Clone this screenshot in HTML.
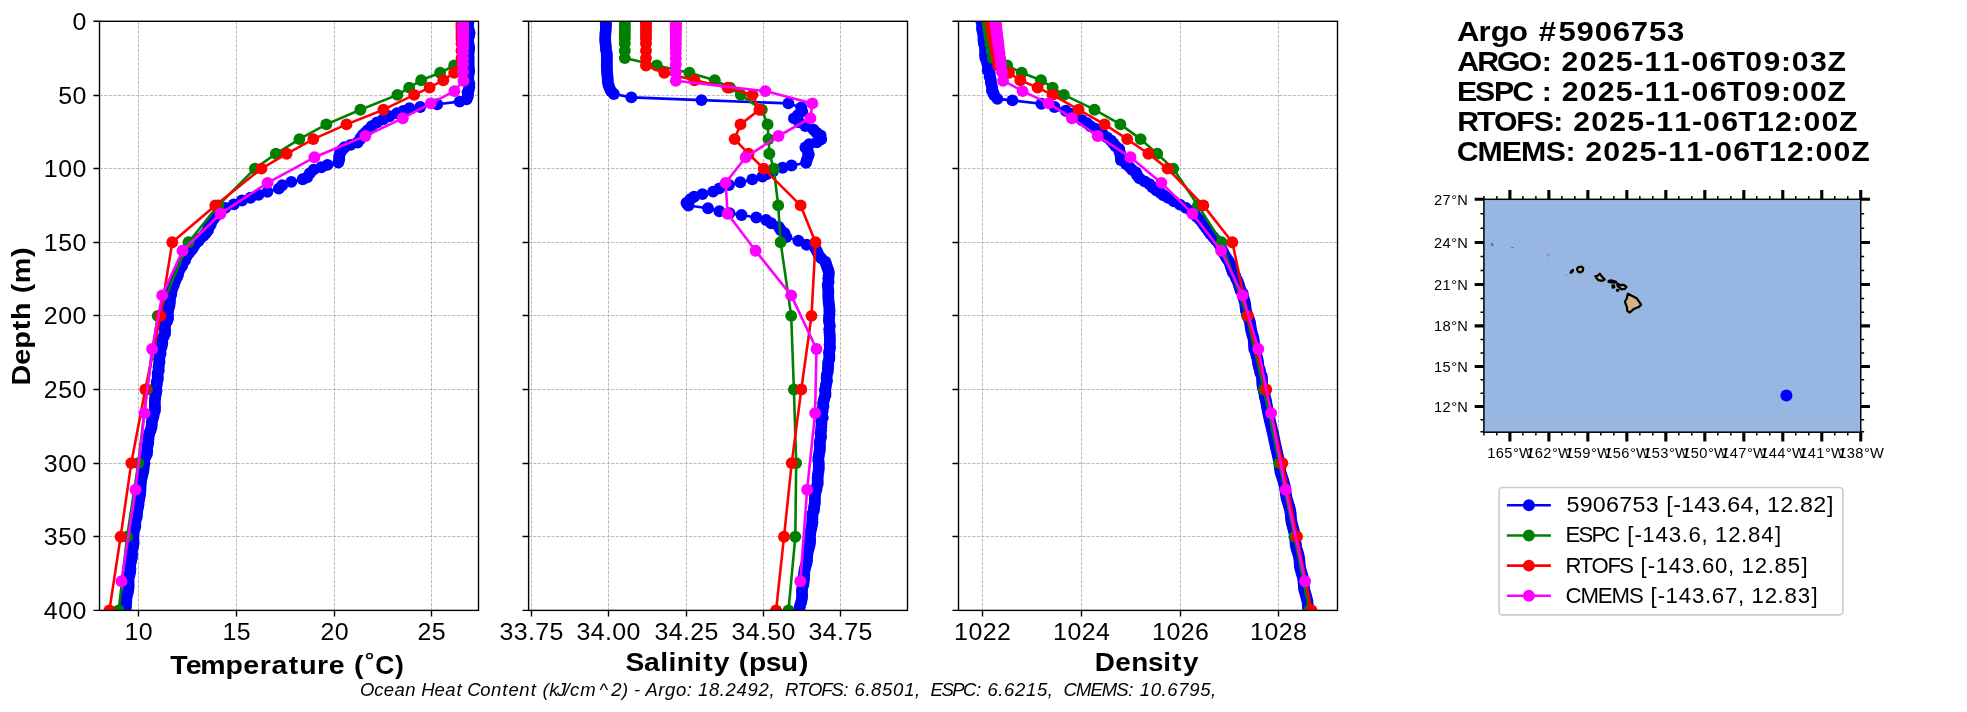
<!DOCTYPE html><html><head><meta charset="utf-8"><title>Argo 5906753</title><style>html,body{margin:0;padding:0;background:#fff}svg{display:block;will-change:transform}text{font-family:"Liberation Sans",sans-serif;fill:#000;white-space:pre}</style></head><body>
<svg width="1967" height="712" viewBox="0 0 1967 712">
<rect width="1967" height="712" fill="#fff"/>
<defs><clipPath id="c0"><rect x="99.5" y="21.3" width="379.0" height="589.1"/></clipPath><clipPath id="c1"><rect x="528.6" y="21.3" width="378.9" height="589.1"/></clipPath><clipPath id="c2"><rect x="958.5" y="21.3" width="379.0" height="589.1"/></clipPath></defs>
<path d="M138.50,21.3V610.4M236.50,21.3V610.4M334.50,21.3V610.4M431.50,21.3V610.4M99.50,21.30H478.50M99.50,95.50H478.50M99.50,168.50H478.50M99.50,242.50H478.50M99.50,315.50H478.50M99.50,389.50H478.50M99.50,463.50H478.50M99.50,536.50H478.50M99.50,610.40H478.50" stroke="#b0b0b0" stroke-width="0.87" stroke-dasharray="3.20,1.38" fill="none"/>
<g clip-path="url(#c0)">
<path d="M468.7,21.0 L468.1,24.0 L467.9,27.0 L468.8,30.0 L469.6,33.0 L469.1,36.0 L468.1,39.0 L468.1,42.0 L468.8,45.0 L469.2,48.0 L468.9,51.0 L468.5,54.0 L468.6,57.0 L468.7,60.0 L468.6,63.0 L468.6,66.0 L469.0,69.0 L469.1,72.0 L468.5,75.0 L468.0,78.0 L468.5,81.0 L469.4,84.0 L469.3,87.0 L468.7,90.0 L467.6,92.3 L468.1,94.6 L467.6,96.9 L466.6,99.3 L459.6,101.6 L437.2,104.2 L420.2,107.0 L409.4,108.2 L403.2,110.9 L397.0,113.2 L389.3,116.3 L383.1,119.4 L377.0,122.4 L371.6,126.3 L367.7,130.2 L365.8,132.5 L363.1,134.8 L361.2,137.1 L360.0,139.4 L357.6,142.5 L350.7,144.9 L344.5,147.2 L342.5,149.5 L340.6,151.8 L339.8,154.1 L339.1,156.4 L339.2,159.5 L338.3,162.6 L327.5,164.9 L321.3,167.3 L313.6,169.6 L309.7,173.4 L307.2,177.2 L302.7,179.3 L291.3,181.9 L282.2,185.2 L278.8,188.6 L267.4,191.9 L258.5,194.9 L250.5,197.8 L242.0,200.5 L233.8,204.4 L225.4,207.9 L219.8,212.1 L215.6,216.3 L213.3,219.2 L211.4,222.0 L210.6,224.8 L208.6,227.6 L207.9,230.4 L205.7,233.2 L203.5,235.9 L200.1,238.5 L198.3,241.2 L195.3,244.1 L193.5,247.0 L191.7,249.8 L189.3,252.5 L187.5,255.1 L185.6,257.8 L185.0,260.4 L183.0,263.0 L182.1,266.0 L179.9,269.0 L178.5,272.0 L178.0,275.0 L176.7,277.8 L175.3,280.5 L174.2,283.2 L173.5,286.0 L172.0,288.9 L171.5,291.7 L171.2,294.5 L170.2,297.4 L169.9,300.4 L169.8,303.4 L169.2,306.4 L168.2,309.4 L167.8,312.4 L167.9,315.4 L168.1,318.4 L166.9,321.4 L165.3,324.4 L164.7,327.4 L165.1,330.4 L165.0,333.4 L163.7,336.4 L162.2,339.4 L162.3,342.4 L161.9,345.2 L161.2,348.0 L160.2,350.8 L160.6,353.6 L159.6,356.4 L159.2,359.2 L159.5,362.0 L158.9,364.8 L158.5,367.6 L158.7,370.4 L157.7,373.2 L157.7,376.1 L157.9,378.9 L156.8,381.7 L156.8,384.5 L156.0,387.3 L156.5,390.2 L156.0,393.2 L155.4,396.1 L155.0,399.0 L154.8,402.0 L154.9,404.9 L155.0,407.8 L154.9,410.8 L153.8,413.7 L153.4,416.6 L152.4,419.4 L151.8,422.3 L151.7,425.2 L151.3,428.0 L150.4,430.9 L149.3,433.8 L148.6,436.6 L148.4,439.5 L148.3,442.4 L147.7,445.2 L147.2,448.1 L147.2,451.1 L146.9,454.1 L145.5,457.1 L144.1,460.1 L144.4,463.1 L143.9,466.0 L143.6,469.0 L143.1,471.9 L142.4,474.8 L141.7,477.8 L141.1,480.7 L140.7,483.6 L140.6,486.5 L140.5,489.5 L140.3,492.4 L139.9,495.4 L139.3,498.5 L138.7,501.5 L138.5,504.6 L138.0,507.6 L137.2,510.7 L137.0,513.7 L136.8,516.7 L135.8,519.8 L135.3,522.8 L135.4,525.9 L134.6,528.9 L133.6,532.0 L133.6,535.0 L133.3,537.9 L133.5,540.7 L133.6,543.6 L133.0,546.4 L132.1,549.3 L131.9,552.1 L132.1,555.0 L131.9,557.9 L131.2,560.7 L130.4,563.6 L130.2,566.4 L130.4,569.3 L130.1,572.1 L129.5,575.0 L128.7,578.0 L128.5,580.9 L128.6,583.9 L128.6,586.8 L128.3,589.8 L127.7,592.7 L126.9,595.6 L126.4,598.6 L126.2,601.5 L126.1,604.5 L125.8,607.4 L124.8,610.4 L124.5,613.6 L124.0,616.8 L123.5,620.0" fill="none" stroke="#0000ff" stroke-width="2.6" stroke-linejoin="round"/>
<g fill="#0000ff"><circle cx="468.7" cy="21.0" r="5.95"/><circle cx="468.1" cy="24.0" r="5.95"/><circle cx="467.9" cy="27.0" r="5.95"/><circle cx="468.8" cy="30.0" r="5.95"/><circle cx="469.6" cy="33.0" r="5.95"/><circle cx="469.1" cy="36.0" r="5.95"/><circle cx="468.1" cy="39.0" r="5.95"/><circle cx="468.1" cy="42.0" r="5.95"/><circle cx="468.8" cy="45.0" r="5.95"/><circle cx="469.2" cy="48.0" r="5.95"/><circle cx="468.9" cy="51.0" r="5.95"/><circle cx="468.5" cy="54.0" r="5.95"/><circle cx="468.6" cy="57.0" r="5.95"/><circle cx="468.7" cy="60.0" r="5.95"/><circle cx="468.6" cy="63.0" r="5.95"/><circle cx="468.6" cy="66.0" r="5.95"/><circle cx="469.0" cy="69.0" r="5.95"/><circle cx="469.1" cy="72.0" r="5.95"/><circle cx="468.5" cy="75.0" r="5.95"/><circle cx="468.0" cy="78.0" r="5.95"/><circle cx="468.5" cy="81.0" r="5.95"/><circle cx="469.4" cy="84.0" r="5.95"/><circle cx="469.3" cy="87.0" r="5.95"/><circle cx="468.7" cy="90.0" r="5.95"/><circle cx="467.6" cy="92.3" r="5.95"/><circle cx="468.1" cy="94.6" r="5.95"/><circle cx="467.6" cy="96.9" r="5.95"/><circle cx="466.6" cy="99.3" r="5.95"/><circle cx="459.6" cy="101.6" r="5.95"/><circle cx="437.2" cy="104.2" r="5.95"/><circle cx="420.2" cy="107.0" r="5.95"/><circle cx="409.4" cy="108.2" r="5.95"/><circle cx="403.2" cy="110.9" r="5.95"/><circle cx="397.0" cy="113.2" r="5.95"/><circle cx="389.3" cy="116.3" r="5.95"/><circle cx="383.1" cy="119.4" r="5.95"/><circle cx="377.0" cy="122.4" r="5.95"/><circle cx="371.6" cy="126.3" r="5.95"/><circle cx="367.7" cy="130.2" r="5.95"/><circle cx="365.8" cy="132.5" r="5.95"/><circle cx="363.1" cy="134.8" r="5.95"/><circle cx="361.2" cy="137.1" r="5.95"/><circle cx="360.0" cy="139.4" r="5.95"/><circle cx="357.6" cy="142.5" r="5.95"/><circle cx="350.7" cy="144.9" r="5.95"/><circle cx="344.5" cy="147.2" r="5.95"/><circle cx="342.5" cy="149.5" r="5.95"/><circle cx="340.6" cy="151.8" r="5.95"/><circle cx="339.8" cy="154.1" r="5.95"/><circle cx="339.1" cy="156.4" r="5.95"/><circle cx="339.2" cy="159.5" r="5.95"/><circle cx="338.3" cy="162.6" r="5.95"/><circle cx="327.5" cy="164.9" r="5.95"/><circle cx="321.3" cy="167.3" r="5.95"/><circle cx="313.6" cy="169.6" r="5.95"/><circle cx="309.7" cy="173.4" r="5.95"/><circle cx="307.2" cy="177.2" r="5.95"/><circle cx="302.7" cy="179.3" r="5.95"/><circle cx="291.3" cy="181.9" r="5.95"/><circle cx="282.2" cy="185.2" r="5.95"/><circle cx="278.8" cy="188.6" r="5.95"/><circle cx="267.4" cy="191.9" r="5.95"/><circle cx="258.5" cy="194.9" r="5.95"/><circle cx="250.5" cy="197.8" r="5.95"/><circle cx="242.0" cy="200.5" r="5.95"/><circle cx="233.8" cy="204.4" r="5.95"/><circle cx="225.4" cy="207.9" r="5.95"/><circle cx="219.8" cy="212.1" r="5.95"/><circle cx="215.6" cy="216.3" r="5.95"/><circle cx="213.3" cy="219.2" r="5.95"/><circle cx="211.4" cy="222.0" r="5.95"/><circle cx="210.6" cy="224.8" r="5.95"/><circle cx="208.6" cy="227.6" r="5.95"/><circle cx="207.9" cy="230.4" r="5.95"/><circle cx="205.7" cy="233.2" r="5.95"/><circle cx="203.5" cy="235.9" r="5.95"/><circle cx="200.1" cy="238.5" r="5.95"/><circle cx="198.3" cy="241.2" r="5.95"/><circle cx="195.3" cy="244.1" r="5.95"/><circle cx="193.5" cy="247.0" r="5.95"/><circle cx="191.7" cy="249.8" r="5.95"/><circle cx="189.3" cy="252.5" r="5.95"/><circle cx="187.5" cy="255.1" r="5.95"/><circle cx="185.6" cy="257.8" r="5.95"/><circle cx="185.0" cy="260.4" r="5.95"/><circle cx="183.0" cy="263.0" r="5.95"/><circle cx="182.1" cy="266.0" r="5.95"/><circle cx="179.9" cy="269.0" r="5.95"/><circle cx="178.5" cy="272.0" r="5.95"/><circle cx="178.0" cy="275.0" r="5.95"/><circle cx="176.7" cy="277.8" r="5.95"/><circle cx="175.3" cy="280.5" r="5.95"/><circle cx="174.2" cy="283.2" r="5.95"/><circle cx="173.5" cy="286.0" r="5.95"/><circle cx="172.0" cy="288.9" r="5.95"/><circle cx="171.5" cy="291.7" r="5.95"/><circle cx="171.2" cy="294.5" r="5.95"/><circle cx="170.2" cy="297.4" r="5.95"/><circle cx="169.9" cy="300.4" r="5.95"/><circle cx="169.8" cy="303.4" r="5.95"/><circle cx="169.2" cy="306.4" r="5.95"/><circle cx="168.2" cy="309.4" r="5.95"/><circle cx="167.8" cy="312.4" r="5.95"/><circle cx="167.9" cy="315.4" r="5.95"/><circle cx="168.1" cy="318.4" r="5.95"/><circle cx="166.9" cy="321.4" r="5.95"/><circle cx="165.3" cy="324.4" r="5.95"/><circle cx="164.7" cy="327.4" r="5.95"/><circle cx="165.1" cy="330.4" r="5.95"/><circle cx="165.0" cy="333.4" r="5.95"/><circle cx="163.7" cy="336.4" r="5.95"/><circle cx="162.2" cy="339.4" r="5.95"/><circle cx="162.3" cy="342.4" r="5.95"/><circle cx="161.9" cy="345.2" r="5.95"/><circle cx="161.2" cy="348.0" r="5.95"/><circle cx="160.2" cy="350.8" r="5.95"/><circle cx="160.6" cy="353.6" r="5.95"/><circle cx="159.6" cy="356.4" r="5.95"/><circle cx="159.2" cy="359.2" r="5.95"/><circle cx="159.5" cy="362.0" r="5.95"/><circle cx="158.9" cy="364.8" r="5.95"/><circle cx="158.5" cy="367.6" r="5.95"/><circle cx="158.7" cy="370.4" r="5.95"/><circle cx="157.7" cy="373.2" r="5.95"/><circle cx="157.7" cy="376.1" r="5.95"/><circle cx="157.9" cy="378.9" r="5.95"/><circle cx="156.8" cy="381.7" r="5.95"/><circle cx="156.8" cy="384.5" r="5.95"/><circle cx="156.0" cy="387.3" r="5.95"/><circle cx="156.5" cy="390.2" r="5.95"/><circle cx="156.0" cy="393.2" r="5.95"/><circle cx="155.4" cy="396.1" r="5.95"/><circle cx="155.0" cy="399.0" r="5.95"/><circle cx="154.8" cy="402.0" r="5.95"/><circle cx="154.9" cy="404.9" r="5.95"/><circle cx="155.0" cy="407.8" r="5.95"/><circle cx="154.9" cy="410.8" r="5.95"/><circle cx="153.8" cy="413.7" r="5.95"/><circle cx="153.4" cy="416.6" r="5.95"/><circle cx="152.4" cy="419.4" r="5.95"/><circle cx="151.8" cy="422.3" r="5.95"/><circle cx="151.7" cy="425.2" r="5.95"/><circle cx="151.3" cy="428.0" r="5.95"/><circle cx="150.4" cy="430.9" r="5.95"/><circle cx="149.3" cy="433.8" r="5.95"/><circle cx="148.6" cy="436.6" r="5.95"/><circle cx="148.4" cy="439.5" r="5.95"/><circle cx="148.3" cy="442.4" r="5.95"/><circle cx="147.7" cy="445.2" r="5.95"/><circle cx="147.2" cy="448.1" r="5.95"/><circle cx="147.2" cy="451.1" r="5.95"/><circle cx="146.9" cy="454.1" r="5.95"/><circle cx="145.5" cy="457.1" r="5.95"/><circle cx="144.1" cy="460.1" r="5.95"/><circle cx="144.4" cy="463.1" r="5.95"/><circle cx="143.9" cy="466.0" r="5.95"/><circle cx="143.6" cy="469.0" r="5.95"/><circle cx="143.1" cy="471.9" r="5.95"/><circle cx="142.4" cy="474.8" r="5.95"/><circle cx="141.7" cy="477.8" r="5.95"/><circle cx="141.1" cy="480.7" r="5.95"/><circle cx="140.7" cy="483.6" r="5.95"/><circle cx="140.6" cy="486.5" r="5.95"/><circle cx="140.5" cy="489.5" r="5.95"/><circle cx="140.3" cy="492.4" r="5.95"/><circle cx="139.9" cy="495.4" r="5.95"/><circle cx="139.3" cy="498.5" r="5.95"/><circle cx="138.7" cy="501.5" r="5.95"/><circle cx="138.5" cy="504.6" r="5.95"/><circle cx="138.0" cy="507.6" r="5.95"/><circle cx="137.2" cy="510.7" r="5.95"/><circle cx="137.0" cy="513.7" r="5.95"/><circle cx="136.8" cy="516.7" r="5.95"/><circle cx="135.8" cy="519.8" r="5.95"/><circle cx="135.3" cy="522.8" r="5.95"/><circle cx="135.4" cy="525.9" r="5.95"/><circle cx="134.6" cy="528.9" r="5.95"/><circle cx="133.6" cy="532.0" r="5.95"/><circle cx="133.6" cy="535.0" r="5.95"/><circle cx="133.3" cy="537.9" r="5.95"/><circle cx="133.5" cy="540.7" r="5.95"/><circle cx="133.6" cy="543.6" r="5.95"/><circle cx="133.0" cy="546.4" r="5.95"/><circle cx="132.1" cy="549.3" r="5.95"/><circle cx="131.9" cy="552.1" r="5.95"/><circle cx="132.1" cy="555.0" r="5.95"/><circle cx="131.9" cy="557.9" r="5.95"/><circle cx="131.2" cy="560.7" r="5.95"/><circle cx="130.4" cy="563.6" r="5.95"/><circle cx="130.2" cy="566.4" r="5.95"/><circle cx="130.4" cy="569.3" r="5.95"/><circle cx="130.1" cy="572.1" r="5.95"/><circle cx="129.5" cy="575.0" r="5.95"/><circle cx="128.7" cy="578.0" r="5.95"/><circle cx="128.5" cy="580.9" r="5.95"/><circle cx="128.6" cy="583.9" r="5.95"/><circle cx="128.6" cy="586.8" r="5.95"/><circle cx="128.3" cy="589.8" r="5.95"/><circle cx="127.7" cy="592.7" r="5.95"/><circle cx="126.9" cy="595.6" r="5.95"/><circle cx="126.4" cy="598.6" r="5.95"/><circle cx="126.2" cy="601.5" r="5.95"/><circle cx="126.1" cy="604.5" r="5.95"/><circle cx="125.8" cy="607.4" r="5.95"/><circle cx="124.8" cy="610.4" r="5.95"/><circle cx="124.5" cy="613.6" r="5.95"/><circle cx="124.0" cy="616.8" r="5.95"/><circle cx="123.5" cy="620.0" r="5.95"/></g>
<path d="M462.0,21.3 L462.0,24.2 L462.0,27.2 L462.0,30.1 L462.0,33.1 L462.0,36.0 L462.0,39.0 L462.0,43.4 L462.0,50.8 L462.0,58.1 L454.2,65.5 L440.1,72.8 L421.2,80.2 L409.2,87.6 L397.4,94.9 L360.4,109.7 L326.3,124.4 L299.4,139.1 L275.9,153.8 L254.9,168.6 L218.4,205.4 L188.5,242.2 L157.7,315.9 L147.0,389.5 L138.3,463.1 L127.1,536.8 L118.7,610.4" fill="none" stroke="#008000" stroke-width="2.6" stroke-linejoin="round"/>
<g fill="#008000"><circle cx="462.0" cy="21.3" r="5.95"/><circle cx="462.0" cy="24.2" r="5.95"/><circle cx="462.0" cy="27.2" r="5.95"/><circle cx="462.0" cy="30.1" r="5.95"/><circle cx="462.0" cy="33.1" r="5.95"/><circle cx="462.0" cy="36.0" r="5.95"/><circle cx="462.0" cy="39.0" r="5.95"/><circle cx="462.0" cy="43.4" r="5.95"/><circle cx="462.0" cy="50.8" r="5.95"/><circle cx="462.0" cy="58.1" r="5.95"/><circle cx="454.2" cy="65.5" r="5.95"/><circle cx="440.1" cy="72.8" r="5.95"/><circle cx="421.2" cy="80.2" r="5.95"/><circle cx="409.2" cy="87.6" r="5.95"/><circle cx="397.4" cy="94.9" r="5.95"/><circle cx="360.4" cy="109.7" r="5.95"/><circle cx="326.3" cy="124.4" r="5.95"/><circle cx="299.4" cy="139.1" r="5.95"/><circle cx="275.9" cy="153.8" r="5.95"/><circle cx="254.9" cy="168.6" r="5.95"/><circle cx="218.4" cy="205.4" r="5.95"/><circle cx="188.5" cy="242.2" r="5.95"/><circle cx="157.7" cy="315.9" r="5.95"/><circle cx="147.0" cy="389.5" r="5.95"/><circle cx="138.3" cy="463.1" r="5.95"/><circle cx="127.1" cy="536.8" r="5.95"/><circle cx="118.7" cy="610.4" r="5.95"/></g>
<path d="M461.5,21.3 L461.5,24.2 L461.5,27.2 L461.5,30.1 L461.5,33.1 L461.5,36.0 L461.5,39.0 L461.5,43.4 L461.5,50.8 L461.5,58.1 L461.5,65.5 L454.2,72.8 L443.3,80.2 L429.6,87.6 L414.2,94.9 L383.4,109.7 L346.5,124.4 L313.3,139.1 L286.6,153.8 L261.4,168.6 L215.3,205.4 L172.3,242.2 L160.4,315.9 L145.3,389.5 L131.3,463.1 L120.6,536.8 L109.4,610.4" fill="none" stroke="#ff0000" stroke-width="2.6" stroke-linejoin="round"/>
<g fill="#ff0000"><circle cx="461.5" cy="21.3" r="5.95"/><circle cx="461.5" cy="24.2" r="5.95"/><circle cx="461.5" cy="27.2" r="5.95"/><circle cx="461.5" cy="30.1" r="5.95"/><circle cx="461.5" cy="33.1" r="5.95"/><circle cx="461.5" cy="36.0" r="5.95"/><circle cx="461.5" cy="39.0" r="5.95"/><circle cx="461.5" cy="43.4" r="5.95"/><circle cx="461.5" cy="50.8" r="5.95"/><circle cx="461.5" cy="58.1" r="5.95"/><circle cx="461.5" cy="65.5" r="5.95"/><circle cx="454.2" cy="72.8" r="5.95"/><circle cx="443.3" cy="80.2" r="5.95"/><circle cx="429.6" cy="87.6" r="5.95"/><circle cx="414.2" cy="94.9" r="5.95"/><circle cx="383.4" cy="109.7" r="5.95"/><circle cx="346.5" cy="124.4" r="5.95"/><circle cx="313.3" cy="139.1" r="5.95"/><circle cx="286.6" cy="153.8" r="5.95"/><circle cx="261.4" cy="168.6" r="5.95"/><circle cx="215.3" cy="205.4" r="5.95"/><circle cx="172.3" cy="242.2" r="5.95"/><circle cx="160.4" cy="315.9" r="5.95"/><circle cx="145.3" cy="389.5" r="5.95"/><circle cx="131.3" cy="463.1" r="5.95"/><circle cx="120.6" cy="536.8" r="5.95"/><circle cx="109.4" cy="610.4" r="5.95"/></g>
<path d="M463.0,22.0 L463.0,23.6 L463.0,25.2 L463.0,26.9 L463.0,28.8 L463.0,30.8 L463.0,33.0 L463.0,35.4 L463.0,38.1 L463.0,41.1 L463.0,44.6 L463.0,48.5 L463.0,53.1 L463.0,58.4 L463.0,64.7 L463.0,72.0 L463.5,80.7 L454.4,91.1 L430.8,103.4 L402.8,118.2 L365.4,136.0 L314.4,157.3 L267.6,182.9 L220.5,213.7 L182.5,250.8 L162.2,295.4 L152.1,349.0 L144.5,413.1 L135.5,489.8 L121.5,581.3" fill="none" stroke="#ff00ff" stroke-width="2.6" stroke-linejoin="round"/>
<g fill="#ff00ff"><circle cx="463.0" cy="22.0" r="5.95"/><circle cx="463.0" cy="23.6" r="5.95"/><circle cx="463.0" cy="25.2" r="5.95"/><circle cx="463.0" cy="26.9" r="5.95"/><circle cx="463.0" cy="28.8" r="5.95"/><circle cx="463.0" cy="30.8" r="5.95"/><circle cx="463.0" cy="33.0" r="5.95"/><circle cx="463.0" cy="35.4" r="5.95"/><circle cx="463.0" cy="38.1" r="5.95"/><circle cx="463.0" cy="41.1" r="5.95"/><circle cx="463.0" cy="44.6" r="5.95"/><circle cx="463.0" cy="48.5" r="5.95"/><circle cx="463.0" cy="53.1" r="5.95"/><circle cx="463.0" cy="58.4" r="5.95"/><circle cx="463.0" cy="64.7" r="5.95"/><circle cx="463.0" cy="72.0" r="5.95"/><circle cx="463.5" cy="80.7" r="5.95"/><circle cx="454.4" cy="91.1" r="5.95"/><circle cx="430.8" cy="103.4" r="5.95"/><circle cx="402.8" cy="118.2" r="5.95"/><circle cx="365.4" cy="136.0" r="5.95"/><circle cx="314.4" cy="157.3" r="5.95"/><circle cx="267.6" cy="182.9" r="5.95"/><circle cx="220.5" cy="213.7" r="5.95"/><circle cx="182.5" cy="250.8" r="5.95"/><circle cx="162.2" cy="295.4" r="5.95"/><circle cx="152.1" cy="349.0" r="5.95"/><circle cx="144.5" cy="413.1" r="5.95"/><circle cx="135.5" cy="489.8" r="5.95"/><circle cx="121.5" cy="581.3" r="5.95"/></g>
</g>
<path d="M138.50,610.4v6.06M236.50,610.4v6.06M334.50,610.4v6.06M431.50,610.4v6.06M99.50,21.30h-6.06M99.50,95.50h-6.06M99.50,168.50h-6.06M99.50,242.50h-6.06M99.50,315.50h-6.06M99.50,389.50h-6.06M99.50,463.50h-6.06M99.50,536.50h-6.06M99.50,610.40h-6.06" stroke="#000" stroke-width="1.38" fill="none"/>
<rect x="99.50" y="21.3" width="379.00" height="589.10" fill="none" stroke="#000" stroke-width="1.38"/>
<text transform="translate(124.19,640.20) scale(1.0469,1)" x="0.21 13.88" y="0" font-size="23.85" xml:space="preserve">10</text>
<text transform="translate(222.19,640.20) scale(1.0469,1)" x="0.21 13.88" y="0" font-size="23.85" xml:space="preserve">15</text>
<text transform="translate(320.19,640.20) scale(1.0469,1)" x="0.21 13.88" y="0" font-size="23.85" xml:space="preserve">20</text>
<text transform="translate(417.19,640.20) scale(1.0469,1)" x="0.21 13.88" y="0" font-size="23.85" xml:space="preserve">25</text>
<text transform="translate(72.29,29.60) scale(1.0469,1)" x="0.21" y="0" font-size="23.85" xml:space="preserve">0</text>
<text transform="translate(57.97,103.80) scale(1.0469,1)" x="0.21 13.88" y="0" font-size="23.85" xml:space="preserve">50</text>
<text transform="translate(43.66,176.80) scale(1.0469,1)" x="0.21 13.88 27.55" y="0" font-size="23.85" xml:space="preserve">100</text>
<text transform="translate(43.66,250.80) scale(1.0469,1)" x="0.21 13.88 27.55" y="0" font-size="23.85" xml:space="preserve">150</text>
<text transform="translate(43.66,323.80) scale(1.0469,1)" x="0.21 13.88 27.55" y="0" font-size="23.85" xml:space="preserve">200</text>
<text transform="translate(43.66,397.80) scale(1.0469,1)" x="0.21 13.88 27.55" y="0" font-size="23.85" xml:space="preserve">250</text>
<text transform="translate(43.66,471.80) scale(1.0469,1)" x="0.21 13.88 27.55" y="0" font-size="23.85" xml:space="preserve">300</text>
<text transform="translate(43.66,544.80) scale(1.0469,1)" x="0.21 13.88 27.55" y="0" font-size="23.85" xml:space="preserve">350</text>
<text transform="translate(43.66,618.70) scale(1.0469,1)" x="0.21 13.88 27.55" y="0" font-size="23.85" xml:space="preserve">400</text>
<path d="M531.50,21.3V610.4M608.50,21.3V610.4M686.50,21.3V610.4M763.50,21.3V610.4M840.50,21.3V610.4M528.60,21.30H907.50M528.60,95.50H907.50M528.60,168.50H907.50M528.60,242.50H907.50M528.60,315.50H907.50M528.60,389.50H907.50M528.60,463.50H907.50M528.60,536.50H907.50M528.60,610.40H907.50" stroke="#b0b0b0" stroke-width="0.87" stroke-dasharray="3.20,1.38" fill="none"/>
<g clip-path="url(#c1)">
<path d="M605.5,21.0 L606.0,23.9 L605.9,26.8 L605.8,29.7 L605.5,32.6 L605.3,35.5 L605.2,38.4 L605.3,41.3 L605.6,44.2 L605.9,47.1 L606.0,50.0 L606.7,52.9 L606.9,55.8 L606.9,58.7 L606.9,61.6 L606.8,64.5 L606.9,67.5 L607.0,70.4 L607.2,73.3 L607.5,76.2 L607.7,79.1 L607.8,82.0 L608.5,85.0 L609.5,88.0 L611.0,91.0 L613.9,94.0 L631.4,97.4 L701.5,100.1 L788.4,103.4 L801.2,107.5 L802.2,111.4 L797.8,115.2 L794.0,118.4 L799.1,122.2 L805.4,126.0 L813.6,129.8 L816.5,132.7 L820.6,135.5 L821.2,139.2 L816.8,142.4 L809.2,144.3 L805.4,147.5 L807.9,151.9 L808.8,154.4 L807.9,156.9 L806.8,159.9 L806.0,162.8 L791.5,165.5 L782.6,167.7 L772.8,171.5 L766.9,174.1 L762.4,176.6 L752.3,179.4 L740.3,182.3 L729.0,185.0 L719.4,188.4 L713.1,191.6 L702.4,194.1 L694.1,196.7 L690.3,199.2 L686.5,203.0 L688.4,205.5 L708.0,208.3 L719.4,211.2 L729.5,213.1 L741.5,215.0 L756.3,217.5 L766.2,220.0 L771.2,223.2 L778.8,227.0 L781.0,230.2 L784.5,233.3 L786.4,237.1 L798.4,240.7 L806.6,244.7 L815.5,248.5 L817.2,251.8 L818.7,255.0 L821.4,258.4 L825.3,261.7 L826.3,264.4 L827.0,267.0 L828.1,269.6 L828.8,272.3 L828.7,275.4 L828.3,278.6 L828.6,281.7 L827.7,284.9 L828.0,288.0 L828.4,290.9 L828.3,293.8 L828.3,296.8 L828.5,299.7 L828.7,302.6 L829.1,305.5 L829.4,308.4 L829.5,311.3 L829.4,314.2 L829.1,317.2 L828.8,320.1 L829.3,323.0 L829.9,326.1 L829.3,329.2 L829.5,332.4 L829.8,335.5 L829.9,338.6 L829.9,341.7 L829.6,344.4 L830.0,347.0 L829.7,349.7 L829.0,352.3 L829.3,355.0 L829.4,357.7 L828.9,360.3 L828.1,363.0 L828.2,365.6 L828.0,368.3 L827.8,371.5 L826.9,374.7 L826.6,377.9 L827.0,381.1 L826.1,384.3 L825.7,387.0 L825.0,389.7 L825.4,392.3 L825.5,395.0 L824.5,397.7 L823.8,400.5 L823.1,403.2 L823.5,406.0 L822.8,408.7 L822.5,411.5 L821.4,414.6 L822.7,417.8 L821.3,420.9 L821.5,424.0 L821.3,427.1 L821.1,430.2 L820.5,433.3 L821.1,436.4 L820.4,439.5 L819.8,442.4 L819.9,445.4 L819.9,448.4 L819.6,451.3 L819.0,454.2 L818.5,457.2 L818.3,460.2 L818.9,463.1 L818.8,466.1 L818.8,469.0 L818.4,472.0 L817.9,475.0 L817.6,477.9 L817.7,480.9 L817.7,483.8 L816.8,486.8 L816.4,489.8 L815.5,492.7 L815.0,495.6 L814.9,498.6 L814.9,501.6 L814.6,504.5 L814.0,507.4 L813.9,510.4 L812.7,513.3 L812.4,516.3 L812.4,519.2 L812.4,522.2 L812.0,525.1 L811.4,528.1 L810.7,531.0 L810.1,534.0 L810.0,536.9 L810.1,539.9 L810.0,542.8 L809.5,545.8 L808.6,548.7 L807.8,551.7 L807.3,554.6 L807.1,557.6 L807.0,560.6 L806.4,563.5 L805.5,566.5 L804.7,569.4 L804.2,572.4 L804.1,575.3 L804.1,578.2 L803.8,581.2 L803.3,584.2 L802.5,587.1 L802.0,590.1 L802.0,593.0 L802.1,596.0 L801.9,598.9 L801.2,601.9 L800.3,604.8 L799.6,607.8 L799.2,610.4 L798.9,613.6 L798.3,616.8 L797.8,620.0" fill="none" stroke="#0000ff" stroke-width="2.6" stroke-linejoin="round"/>
<g fill="#0000ff"><circle cx="605.5" cy="21.0" r="5.95"/><circle cx="606.0" cy="23.9" r="5.95"/><circle cx="605.9" cy="26.8" r="5.95"/><circle cx="605.8" cy="29.7" r="5.95"/><circle cx="605.5" cy="32.6" r="5.95"/><circle cx="605.3" cy="35.5" r="5.95"/><circle cx="605.2" cy="38.4" r="5.95"/><circle cx="605.3" cy="41.3" r="5.95"/><circle cx="605.6" cy="44.2" r="5.95"/><circle cx="605.9" cy="47.1" r="5.95"/><circle cx="606.0" cy="50.0" r="5.95"/><circle cx="606.7" cy="52.9" r="5.95"/><circle cx="606.9" cy="55.8" r="5.95"/><circle cx="606.9" cy="58.7" r="5.95"/><circle cx="606.9" cy="61.6" r="5.95"/><circle cx="606.8" cy="64.5" r="5.95"/><circle cx="606.9" cy="67.5" r="5.95"/><circle cx="607.0" cy="70.4" r="5.95"/><circle cx="607.2" cy="73.3" r="5.95"/><circle cx="607.5" cy="76.2" r="5.95"/><circle cx="607.7" cy="79.1" r="5.95"/><circle cx="607.8" cy="82.0" r="5.95"/><circle cx="608.5" cy="85.0" r="5.95"/><circle cx="609.5" cy="88.0" r="5.95"/><circle cx="611.0" cy="91.0" r="5.95"/><circle cx="613.9" cy="94.0" r="5.95"/><circle cx="631.4" cy="97.4" r="5.95"/><circle cx="701.5" cy="100.1" r="5.95"/><circle cx="788.4" cy="103.4" r="5.95"/><circle cx="801.2" cy="107.5" r="5.95"/><circle cx="802.2" cy="111.4" r="5.95"/><circle cx="797.8" cy="115.2" r="5.95"/><circle cx="794.0" cy="118.4" r="5.95"/><circle cx="799.1" cy="122.2" r="5.95"/><circle cx="805.4" cy="126.0" r="5.95"/><circle cx="813.6" cy="129.8" r="5.95"/><circle cx="816.5" cy="132.7" r="5.95"/><circle cx="820.6" cy="135.5" r="5.95"/><circle cx="821.2" cy="139.2" r="5.95"/><circle cx="816.8" cy="142.4" r="5.95"/><circle cx="809.2" cy="144.3" r="5.95"/><circle cx="805.4" cy="147.5" r="5.95"/><circle cx="807.9" cy="151.9" r="5.95"/><circle cx="808.8" cy="154.4" r="5.95"/><circle cx="807.9" cy="156.9" r="5.95"/><circle cx="806.8" cy="159.9" r="5.95"/><circle cx="806.0" cy="162.8" r="5.95"/><circle cx="791.5" cy="165.5" r="5.95"/><circle cx="782.6" cy="167.7" r="5.95"/><circle cx="772.8" cy="171.5" r="5.95"/><circle cx="766.9" cy="174.1" r="5.95"/><circle cx="762.4" cy="176.6" r="5.95"/><circle cx="752.3" cy="179.4" r="5.95"/><circle cx="740.3" cy="182.3" r="5.95"/><circle cx="729.0" cy="185.0" r="5.95"/><circle cx="719.4" cy="188.4" r="5.95"/><circle cx="713.1" cy="191.6" r="5.95"/><circle cx="702.4" cy="194.1" r="5.95"/><circle cx="694.1" cy="196.7" r="5.95"/><circle cx="690.3" cy="199.2" r="5.95"/><circle cx="686.5" cy="203.0" r="5.95"/><circle cx="688.4" cy="205.5" r="5.95"/><circle cx="708.0" cy="208.3" r="5.95"/><circle cx="719.4" cy="211.2" r="5.95"/><circle cx="729.5" cy="213.1" r="5.95"/><circle cx="741.5" cy="215.0" r="5.95"/><circle cx="756.3" cy="217.5" r="5.95"/><circle cx="766.2" cy="220.0" r="5.95"/><circle cx="771.2" cy="223.2" r="5.95"/><circle cx="778.8" cy="227.0" r="5.95"/><circle cx="781.0" cy="230.2" r="5.95"/><circle cx="784.5" cy="233.3" r="5.95"/><circle cx="786.4" cy="237.1" r="5.95"/><circle cx="798.4" cy="240.7" r="5.95"/><circle cx="806.6" cy="244.7" r="5.95"/><circle cx="815.5" cy="248.5" r="5.95"/><circle cx="817.2" cy="251.8" r="5.95"/><circle cx="818.7" cy="255.0" r="5.95"/><circle cx="821.4" cy="258.4" r="5.95"/><circle cx="825.3" cy="261.7" r="5.95"/><circle cx="826.3" cy="264.4" r="5.95"/><circle cx="827.0" cy="267.0" r="5.95"/><circle cx="828.1" cy="269.6" r="5.95"/><circle cx="828.8" cy="272.3" r="5.95"/><circle cx="828.7" cy="275.4" r="5.95"/><circle cx="828.3" cy="278.6" r="5.95"/><circle cx="828.6" cy="281.7" r="5.95"/><circle cx="827.7" cy="284.9" r="5.95"/><circle cx="828.0" cy="288.0" r="5.95"/><circle cx="828.4" cy="290.9" r="5.95"/><circle cx="828.3" cy="293.8" r="5.95"/><circle cx="828.3" cy="296.8" r="5.95"/><circle cx="828.5" cy="299.7" r="5.95"/><circle cx="828.7" cy="302.6" r="5.95"/><circle cx="829.1" cy="305.5" r="5.95"/><circle cx="829.4" cy="308.4" r="5.95"/><circle cx="829.5" cy="311.3" r="5.95"/><circle cx="829.4" cy="314.2" r="5.95"/><circle cx="829.1" cy="317.2" r="5.95"/><circle cx="828.8" cy="320.1" r="5.95"/><circle cx="829.3" cy="323.0" r="5.95"/><circle cx="829.9" cy="326.1" r="5.95"/><circle cx="829.3" cy="329.2" r="5.95"/><circle cx="829.5" cy="332.4" r="5.95"/><circle cx="829.8" cy="335.5" r="5.95"/><circle cx="829.9" cy="338.6" r="5.95"/><circle cx="829.9" cy="341.7" r="5.95"/><circle cx="829.6" cy="344.4" r="5.95"/><circle cx="830.0" cy="347.0" r="5.95"/><circle cx="829.7" cy="349.7" r="5.95"/><circle cx="829.0" cy="352.3" r="5.95"/><circle cx="829.3" cy="355.0" r="5.95"/><circle cx="829.4" cy="357.7" r="5.95"/><circle cx="828.9" cy="360.3" r="5.95"/><circle cx="828.1" cy="363.0" r="5.95"/><circle cx="828.2" cy="365.6" r="5.95"/><circle cx="828.0" cy="368.3" r="5.95"/><circle cx="827.8" cy="371.5" r="5.95"/><circle cx="826.9" cy="374.7" r="5.95"/><circle cx="826.6" cy="377.9" r="5.95"/><circle cx="827.0" cy="381.1" r="5.95"/><circle cx="826.1" cy="384.3" r="5.95"/><circle cx="825.7" cy="387.0" r="5.95"/><circle cx="825.0" cy="389.7" r="5.95"/><circle cx="825.4" cy="392.3" r="5.95"/><circle cx="825.5" cy="395.0" r="5.95"/><circle cx="824.5" cy="397.7" r="5.95"/><circle cx="823.8" cy="400.5" r="5.95"/><circle cx="823.1" cy="403.2" r="5.95"/><circle cx="823.5" cy="406.0" r="5.95"/><circle cx="822.8" cy="408.7" r="5.95"/><circle cx="822.5" cy="411.5" r="5.95"/><circle cx="821.4" cy="414.6" r="5.95"/><circle cx="822.7" cy="417.8" r="5.95"/><circle cx="821.3" cy="420.9" r="5.95"/><circle cx="821.5" cy="424.0" r="5.95"/><circle cx="821.3" cy="427.1" r="5.95"/><circle cx="821.1" cy="430.2" r="5.95"/><circle cx="820.5" cy="433.3" r="5.95"/><circle cx="821.1" cy="436.4" r="5.95"/><circle cx="820.4" cy="439.5" r="5.95"/><circle cx="819.8" cy="442.4" r="5.95"/><circle cx="819.9" cy="445.4" r="5.95"/><circle cx="819.9" cy="448.4" r="5.95"/><circle cx="819.6" cy="451.3" r="5.95"/><circle cx="819.0" cy="454.2" r="5.95"/><circle cx="818.5" cy="457.2" r="5.95"/><circle cx="818.3" cy="460.2" r="5.95"/><circle cx="818.9" cy="463.1" r="5.95"/><circle cx="818.8" cy="466.1" r="5.95"/><circle cx="818.8" cy="469.0" r="5.95"/><circle cx="818.4" cy="472.0" r="5.95"/><circle cx="817.9" cy="475.0" r="5.95"/><circle cx="817.6" cy="477.9" r="5.95"/><circle cx="817.7" cy="480.9" r="5.95"/><circle cx="817.7" cy="483.8" r="5.95"/><circle cx="816.8" cy="486.8" r="5.95"/><circle cx="816.4" cy="489.8" r="5.95"/><circle cx="815.5" cy="492.7" r="5.95"/><circle cx="815.0" cy="495.6" r="5.95"/><circle cx="814.9" cy="498.6" r="5.95"/><circle cx="814.9" cy="501.6" r="5.95"/><circle cx="814.6" cy="504.5" r="5.95"/><circle cx="814.0" cy="507.4" r="5.95"/><circle cx="813.9" cy="510.4" r="5.95"/><circle cx="812.7" cy="513.3" r="5.95"/><circle cx="812.4" cy="516.3" r="5.95"/><circle cx="812.4" cy="519.2" r="5.95"/><circle cx="812.4" cy="522.2" r="5.95"/><circle cx="812.0" cy="525.1" r="5.95"/><circle cx="811.4" cy="528.1" r="5.95"/><circle cx="810.7" cy="531.0" r="5.95"/><circle cx="810.1" cy="534.0" r="5.95"/><circle cx="810.0" cy="536.9" r="5.95"/><circle cx="810.1" cy="539.9" r="5.95"/><circle cx="810.0" cy="542.8" r="5.95"/><circle cx="809.5" cy="545.8" r="5.95"/><circle cx="808.6" cy="548.7" r="5.95"/><circle cx="807.8" cy="551.7" r="5.95"/><circle cx="807.3" cy="554.6" r="5.95"/><circle cx="807.1" cy="557.6" r="5.95"/><circle cx="807.0" cy="560.6" r="5.95"/><circle cx="806.4" cy="563.5" r="5.95"/><circle cx="805.5" cy="566.5" r="5.95"/><circle cx="804.7" cy="569.4" r="5.95"/><circle cx="804.2" cy="572.4" r="5.95"/><circle cx="804.1" cy="575.3" r="5.95"/><circle cx="804.1" cy="578.2" r="5.95"/><circle cx="803.8" cy="581.2" r="5.95"/><circle cx="803.3" cy="584.2" r="5.95"/><circle cx="802.5" cy="587.1" r="5.95"/><circle cx="802.0" cy="590.1" r="5.95"/><circle cx="802.0" cy="593.0" r="5.95"/><circle cx="802.1" cy="596.0" r="5.95"/><circle cx="801.9" cy="598.9" r="5.95"/><circle cx="801.2" cy="601.9" r="5.95"/><circle cx="800.3" cy="604.8" r="5.95"/><circle cx="799.6" cy="607.8" r="5.95"/><circle cx="799.2" cy="610.4" r="5.95"/><circle cx="798.9" cy="613.6" r="5.95"/><circle cx="798.3" cy="616.8" r="5.95"/><circle cx="797.8" cy="620.0" r="5.95"/></g>
<path d="M624.8,21.3 L624.8,24.2 L624.8,27.2 L624.8,30.1 L624.8,33.1 L624.8,36.0 L624.8,39.0 L624.8,43.4 L624.8,50.8 L624.8,58.1 L656.8,65.5 L689.4,72.8 L714.8,80.2 L730.0,87.6 L740.8,94.9 L761.8,109.7 L767.6,124.4 L768.5,139.1 L769.4,153.8 L773.8,168.6 L778.2,205.4 L780.6,242.2 L791.2,315.9 L793.9,389.5 L796.2,463.1 L795.3,536.8 L788.5,610.4" fill="none" stroke="#008000" stroke-width="2.6" stroke-linejoin="round"/>
<g fill="#008000"><circle cx="624.8" cy="21.3" r="5.95"/><circle cx="624.8" cy="24.2" r="5.95"/><circle cx="624.8" cy="27.2" r="5.95"/><circle cx="624.8" cy="30.1" r="5.95"/><circle cx="624.8" cy="33.1" r="5.95"/><circle cx="624.8" cy="36.0" r="5.95"/><circle cx="624.8" cy="39.0" r="5.95"/><circle cx="624.8" cy="43.4" r="5.95"/><circle cx="624.8" cy="50.8" r="5.95"/><circle cx="624.8" cy="58.1" r="5.95"/><circle cx="656.8" cy="65.5" r="5.95"/><circle cx="689.4" cy="72.8" r="5.95"/><circle cx="714.8" cy="80.2" r="5.95"/><circle cx="730.0" cy="87.6" r="5.95"/><circle cx="740.8" cy="94.9" r="5.95"/><circle cx="761.8" cy="109.7" r="5.95"/><circle cx="767.6" cy="124.4" r="5.95"/><circle cx="768.5" cy="139.1" r="5.95"/><circle cx="769.4" cy="153.8" r="5.95"/><circle cx="773.8" cy="168.6" r="5.95"/><circle cx="778.2" cy="205.4" r="5.95"/><circle cx="780.6" cy="242.2" r="5.95"/><circle cx="791.2" cy="315.9" r="5.95"/><circle cx="793.9" cy="389.5" r="5.95"/><circle cx="796.2" cy="463.1" r="5.95"/><circle cx="795.3" cy="536.8" r="5.95"/><circle cx="788.5" cy="610.4" r="5.95"/></g>
<path d="M646.0,21.3 L646.0,24.2 L646.0,27.2 L646.0,30.1 L646.0,33.1 L646.0,36.0 L646.0,39.0 L646.0,43.4 L646.0,50.8 L646.0,58.1 L646.0,65.5 L664.2,72.8 L694.4,80.2 L727.6,87.6 L752.5,94.9 L759.4,109.7 L740.5,124.4 L734.6,139.1 L748.5,153.8 L763.7,168.6 L800.6,205.4 L815.5,242.2 L811.5,315.9 L801.3,389.5 L791.7,463.1 L784.0,536.8 L776.1,610.4" fill="none" stroke="#ff0000" stroke-width="2.6" stroke-linejoin="round"/>
<g fill="#ff0000"><circle cx="646.0" cy="21.3" r="5.95"/><circle cx="646.0" cy="24.2" r="5.95"/><circle cx="646.0" cy="27.2" r="5.95"/><circle cx="646.0" cy="30.1" r="5.95"/><circle cx="646.0" cy="33.1" r="5.95"/><circle cx="646.0" cy="36.0" r="5.95"/><circle cx="646.0" cy="39.0" r="5.95"/><circle cx="646.0" cy="43.4" r="5.95"/><circle cx="646.0" cy="50.8" r="5.95"/><circle cx="646.0" cy="58.1" r="5.95"/><circle cx="646.0" cy="65.5" r="5.95"/><circle cx="664.2" cy="72.8" r="5.95"/><circle cx="694.4" cy="80.2" r="5.95"/><circle cx="727.6" cy="87.6" r="5.95"/><circle cx="752.5" cy="94.9" r="5.95"/><circle cx="759.4" cy="109.7" r="5.95"/><circle cx="740.5" cy="124.4" r="5.95"/><circle cx="734.6" cy="139.1" r="5.95"/><circle cx="748.5" cy="153.8" r="5.95"/><circle cx="763.7" cy="168.6" r="5.95"/><circle cx="800.6" cy="205.4" r="5.95"/><circle cx="815.5" cy="242.2" r="5.95"/><circle cx="811.5" cy="315.9" r="5.95"/><circle cx="801.3" cy="389.5" r="5.95"/><circle cx="791.7" cy="463.1" r="5.95"/><circle cx="784.0" cy="536.8" r="5.95"/><circle cx="776.1" cy="610.4" r="5.95"/></g>
<path d="M675.8,22.0 L675.8,23.6 L675.8,25.2 L675.8,26.9 L675.8,28.8 L675.8,30.8 L675.8,33.0 L675.8,35.4 L675.8,38.1 L675.8,41.1 L675.8,44.6 L675.8,48.5 L675.8,53.1 L675.8,58.4 L675.8,64.7 L675.8,72.0 L675.8,80.7 L765.4,91.1 L812.4,103.4 L810.4,118.2 L778.5,136.0 L745.7,157.3 L725.6,182.9 L727.6,213.7 L755.6,250.8 L791.2,295.4 L816.5,349.0 L815.1,413.1 L807.1,489.8 L800.3,581.3" fill="none" stroke="#ff00ff" stroke-width="2.6" stroke-linejoin="round"/>
<g fill="#ff00ff"><circle cx="675.8" cy="22.0" r="5.95"/><circle cx="675.8" cy="23.6" r="5.95"/><circle cx="675.8" cy="25.2" r="5.95"/><circle cx="675.8" cy="26.9" r="5.95"/><circle cx="675.8" cy="28.8" r="5.95"/><circle cx="675.8" cy="30.8" r="5.95"/><circle cx="675.8" cy="33.0" r="5.95"/><circle cx="675.8" cy="35.4" r="5.95"/><circle cx="675.8" cy="38.1" r="5.95"/><circle cx="675.8" cy="41.1" r="5.95"/><circle cx="675.8" cy="44.6" r="5.95"/><circle cx="675.8" cy="48.5" r="5.95"/><circle cx="675.8" cy="53.1" r="5.95"/><circle cx="675.8" cy="58.4" r="5.95"/><circle cx="675.8" cy="64.7" r="5.95"/><circle cx="675.8" cy="72.0" r="5.95"/><circle cx="675.8" cy="80.7" r="5.95"/><circle cx="765.4" cy="91.1" r="5.95"/><circle cx="812.4" cy="103.4" r="5.95"/><circle cx="810.4" cy="118.2" r="5.95"/><circle cx="778.5" cy="136.0" r="5.95"/><circle cx="745.7" cy="157.3" r="5.95"/><circle cx="725.6" cy="182.9" r="5.95"/><circle cx="727.6" cy="213.7" r="5.95"/><circle cx="755.6" cy="250.8" r="5.95"/><circle cx="791.2" cy="295.4" r="5.95"/><circle cx="816.5" cy="349.0" r="5.95"/><circle cx="815.1" cy="413.1" r="5.95"/><circle cx="807.1" cy="489.8" r="5.95"/><circle cx="800.3" cy="581.3" r="5.95"/></g>
</g>
<path d="M531.50,610.4v6.06M608.50,610.4v6.06M686.50,610.4v6.06M763.50,610.4v6.06M840.50,610.4v6.06M528.60,21.30h-6.06M528.60,95.50h-6.06M528.60,168.50h-6.06M528.60,242.50h-6.06M528.60,315.50h-6.06M528.60,389.50h-6.06M528.60,463.50h-6.06M528.60,536.50h-6.06M528.60,610.40h-6.06" stroke="#000" stroke-width="1.38" fill="none"/>
<rect x="528.60" y="21.3" width="378.90" height="589.10" fill="none" stroke="#000" stroke-width="1.38"/>
<text transform="translate(499.30,640.20) scale(1.0469,1)" x="0.20 13.88 27.45 34.38 48.05" y="0" font-size="23.85" xml:space="preserve">33.75</text>
<text transform="translate(576.30,640.20) scale(1.0469,1)" x="0.20 13.88 27.45 34.38 48.05" y="0" font-size="23.85" xml:space="preserve">34.00</text>
<text transform="translate(654.30,640.20) scale(1.0469,1)" x="0.20 13.88 27.45 34.38 48.05" y="0" font-size="23.85" xml:space="preserve">34.25</text>
<text transform="translate(731.30,640.20) scale(1.0469,1)" x="0.20 13.88 27.45 34.38 48.05" y="0" font-size="23.85" xml:space="preserve">34.50</text>
<text transform="translate(808.30,640.20) scale(1.0469,1)" x="0.20 13.88 27.45 34.38 48.05" y="0" font-size="23.85" xml:space="preserve">34.75</text>
<path d="M982.50,21.3V610.4M1081.50,21.3V610.4M1180.50,21.3V610.4M1278.50,21.3V610.4M958.50,21.30H1337.50M958.50,95.50H1337.50M958.50,168.50H1337.50M958.50,242.50H1337.50M958.50,315.50H1337.50M958.50,389.50H1337.50M958.50,463.50H1337.50M958.50,536.50H1337.50M958.50,610.40H1337.50" stroke="#b0b0b0" stroke-width="0.87" stroke-dasharray="3.20,1.38" fill="none"/>
<g clip-path="url(#c2)">
<path d="M981.2,21.0 L982.3,23.8 L982.1,26.7 L982.1,29.5 L982.9,32.4 L983.6,35.2 L983.4,38.1 L983.5,40.9 L984.0,43.8 L984.8,46.6 L985.2,49.5 L985.2,52.4 L985.1,55.3 L985.4,58.1 L986.6,61.0 L987.3,64.1 L988.2,67.2 L987.7,70.3 L989.8,73.4 L989.7,76.5 L990.7,79.3 L990.8,82.1 L991.5,84.8 L992.2,87.6 L992.0,90.4 L993.3,92.7 L994.0,95.0 L997.4,98.9 L1012.4,100.4 L1041.4,103.8 L1054.5,107.0 L1065.8,110.8 L1071.5,114.0 L1076.0,117.1 L1082.1,120.3 L1087.1,123.2 L1090.6,126.2 L1095.2,128.7 L1099.0,131.2 L1103.0,134.3 L1106.9,137.4 L1110.8,140.5 L1113.3,143.3 L1115.6,146.2 L1119.2,149.0 L1119.5,151.8 L1120.5,154.5 L1120.8,157.2 L1120.9,160.0 L1126.0,164.1 L1129.4,166.9 L1132.0,169.7 L1136.0,172.5 L1137.2,175.4 L1139.5,178.4 L1144.6,181.4 L1149.6,184.3 L1152.5,187.2 L1156.3,190.2 L1160.2,192.7 L1163.5,195.3 L1168.1,197.8 L1173.9,201.2 L1179.9,204.6 L1185.9,207.9 L1191.7,211.3 L1194.6,214.1 L1196.7,216.9 L1200.0,219.8 L1202.4,222.6 L1204.3,225.4 L1206.5,228.4 L1208.6,231.3 L1210.8,234.3 L1213.5,237.2 L1216.0,240.2 L1218.5,243.1 L1220.2,246.1 L1221.6,249.0 L1223.0,252.0 L1224.7,254.9 L1226.4,257.9 L1228.4,260.8 L1229.9,263.8 L1230.9,266.8 L1231.9,269.7 L1233.0,272.7 L1235.2,275.6 L1236.2,278.6 L1237.7,281.5 L1238.8,284.5 L1239.6,287.4 L1240.6,290.4 L1242.6,293.3 L1243.0,296.2 L1244.0,299.2 L1244.8,302.1 L1245.3,305.1 L1245.6,308.0 L1246.0,311.0 L1247.0,313.9 L1248.0,316.8 L1249.2,319.8 L1250.1,322.8 L1250.5,325.7 L1250.9,328.7 L1251.5,331.6 L1252.3,334.6 L1253.2,337.5 L1253.8,340.5 L1254.0,343.4 L1254.1,346.4 L1254.4,349.3 L1255.9,352.3 L1256.4,355.3 L1257.3,358.2 L1257.9,361.2 L1258.2,364.1 L1258.8,367.1 L1259.8,370.0 L1260.3,373.0 L1261.7,375.9 L1262.1,378.9 L1262.2,381.9 L1262.4,384.8 L1262.9,387.8 L1263.7,390.7 L1264.5,393.7 L1264.7,396.6 L1265.7,399.5 L1266.3,402.4 L1266.8,405.3 L1267.3,408.2 L1267.8,411.1 L1268.4,414.0 L1269.0,416.9 L1269.7,419.8 L1270.4,422.7 L1271.1,425.6 L1271.8,428.5 L1272.5,431.5 L1273.2,434.4 L1273.8,437.3 L1274.4,440.2 L1275.0,443.1 L1275.6,446.0 L1276.3,448.9 L1277.0,451.8 L1277.6,454.7 L1278.3,457.6 L1278.8,460.5 L1279.5,463.4 L1279.7,466.3 L1280.1,469.2 L1280.6,472.2 L1281.4,475.1 L1282.4,478.0 L1283.4,480.9 L1284.2,483.9 L1284.9,486.8 L1285.3,489.7 L1285.7,492.6 L1286.1,495.6 L1286.7,498.5 L1287.6,501.4 L1288.5,504.3 L1289.4,507.3 L1290.1,510.2 L1290.6,513.1 L1290.8,516.0 L1291.1,519.0 L1291.5,521.9 L1292.2,524.8 L1293.0,527.7 L1293.8,530.7 L1294.6,533.6 L1294.7,536.5 L1295.3,539.4 L1295.5,542.4 L1295.9,545.3 L1296.5,548.2 L1297.4,551.2 L1298.3,554.1 L1299.0,557.1 L1299.4,560.0 L1299.6,562.9 L1299.8,565.9 L1300.4,568.8 L1301.2,571.7 L1302.1,574.7 L1302.9,577.6 L1303.4,580.5 L1303.6,583.5 L1303.8,586.4 L1304.2,589.3 L1305.0,592.3 L1305.9,595.2 L1306.7,598.2 L1307.4,601.1 L1307.7,604.0 L1307.9,607.0 L1308.3,609.9 L1309.5,613.3 L1309.9,616.6 L1310.0,620.0" fill="none" stroke="#0000ff" stroke-width="2.6" stroke-linejoin="round"/>
<g fill="#0000ff"><circle cx="981.2" cy="21.0" r="5.95"/><circle cx="982.3" cy="23.8" r="5.95"/><circle cx="982.1" cy="26.7" r="5.95"/><circle cx="982.1" cy="29.5" r="5.95"/><circle cx="982.9" cy="32.4" r="5.95"/><circle cx="983.6" cy="35.2" r="5.95"/><circle cx="983.4" cy="38.1" r="5.95"/><circle cx="983.5" cy="40.9" r="5.95"/><circle cx="984.0" cy="43.8" r="5.95"/><circle cx="984.8" cy="46.6" r="5.95"/><circle cx="985.2" cy="49.5" r="5.95"/><circle cx="985.2" cy="52.4" r="5.95"/><circle cx="985.1" cy="55.3" r="5.95"/><circle cx="985.4" cy="58.1" r="5.95"/><circle cx="986.6" cy="61.0" r="5.95"/><circle cx="987.3" cy="64.1" r="5.95"/><circle cx="988.2" cy="67.2" r="5.95"/><circle cx="987.7" cy="70.3" r="5.95"/><circle cx="989.8" cy="73.4" r="5.95"/><circle cx="989.7" cy="76.5" r="5.95"/><circle cx="990.7" cy="79.3" r="5.95"/><circle cx="990.8" cy="82.1" r="5.95"/><circle cx="991.5" cy="84.8" r="5.95"/><circle cx="992.2" cy="87.6" r="5.95"/><circle cx="992.0" cy="90.4" r="5.95"/><circle cx="993.3" cy="92.7" r="5.95"/><circle cx="994.0" cy="95.0" r="5.95"/><circle cx="997.4" cy="98.9" r="5.95"/><circle cx="1012.4" cy="100.4" r="5.95"/><circle cx="1041.4" cy="103.8" r="5.95"/><circle cx="1054.5" cy="107.0" r="5.95"/><circle cx="1065.8" cy="110.8" r="5.95"/><circle cx="1071.5" cy="114.0" r="5.95"/><circle cx="1076.0" cy="117.1" r="5.95"/><circle cx="1082.1" cy="120.3" r="5.95"/><circle cx="1087.1" cy="123.2" r="5.95"/><circle cx="1090.6" cy="126.2" r="5.95"/><circle cx="1095.2" cy="128.7" r="5.95"/><circle cx="1099.0" cy="131.2" r="5.95"/><circle cx="1103.0" cy="134.3" r="5.95"/><circle cx="1106.9" cy="137.4" r="5.95"/><circle cx="1110.8" cy="140.5" r="5.95"/><circle cx="1113.3" cy="143.3" r="5.95"/><circle cx="1115.6" cy="146.2" r="5.95"/><circle cx="1119.2" cy="149.0" r="5.95"/><circle cx="1119.5" cy="151.8" r="5.95"/><circle cx="1120.5" cy="154.5" r="5.95"/><circle cx="1120.8" cy="157.2" r="5.95"/><circle cx="1120.9" cy="160.0" r="5.95"/><circle cx="1126.0" cy="164.1" r="5.95"/><circle cx="1129.4" cy="166.9" r="5.95"/><circle cx="1132.0" cy="169.7" r="5.95"/><circle cx="1136.0" cy="172.5" r="5.95"/><circle cx="1137.2" cy="175.4" r="5.95"/><circle cx="1139.5" cy="178.4" r="5.95"/><circle cx="1144.6" cy="181.4" r="5.95"/><circle cx="1149.6" cy="184.3" r="5.95"/><circle cx="1152.5" cy="187.2" r="5.95"/><circle cx="1156.3" cy="190.2" r="5.95"/><circle cx="1160.2" cy="192.7" r="5.95"/><circle cx="1163.5" cy="195.3" r="5.95"/><circle cx="1168.1" cy="197.8" r="5.95"/><circle cx="1173.9" cy="201.2" r="5.95"/><circle cx="1179.9" cy="204.6" r="5.95"/><circle cx="1185.9" cy="207.9" r="5.95"/><circle cx="1191.7" cy="211.3" r="5.95"/><circle cx="1194.6" cy="214.1" r="5.95"/><circle cx="1196.7" cy="216.9" r="5.95"/><circle cx="1200.0" cy="219.8" r="5.95"/><circle cx="1202.4" cy="222.6" r="5.95"/><circle cx="1204.3" cy="225.4" r="5.95"/><circle cx="1206.5" cy="228.4" r="5.95"/><circle cx="1208.6" cy="231.3" r="5.95"/><circle cx="1210.8" cy="234.3" r="5.95"/><circle cx="1213.5" cy="237.2" r="5.95"/><circle cx="1216.0" cy="240.2" r="5.95"/><circle cx="1218.5" cy="243.1" r="5.95"/><circle cx="1220.2" cy="246.1" r="5.95"/><circle cx="1221.6" cy="249.0" r="5.95"/><circle cx="1223.0" cy="252.0" r="5.95"/><circle cx="1224.7" cy="254.9" r="5.95"/><circle cx="1226.4" cy="257.9" r="5.95"/><circle cx="1228.4" cy="260.8" r="5.95"/><circle cx="1229.9" cy="263.8" r="5.95"/><circle cx="1230.9" cy="266.8" r="5.95"/><circle cx="1231.9" cy="269.7" r="5.95"/><circle cx="1233.0" cy="272.7" r="5.95"/><circle cx="1235.2" cy="275.6" r="5.95"/><circle cx="1236.2" cy="278.6" r="5.95"/><circle cx="1237.7" cy="281.5" r="5.95"/><circle cx="1238.8" cy="284.5" r="5.95"/><circle cx="1239.6" cy="287.4" r="5.95"/><circle cx="1240.6" cy="290.4" r="5.95"/><circle cx="1242.6" cy="293.3" r="5.95"/><circle cx="1243.0" cy="296.2" r="5.95"/><circle cx="1244.0" cy="299.2" r="5.95"/><circle cx="1244.8" cy="302.1" r="5.95"/><circle cx="1245.3" cy="305.1" r="5.95"/><circle cx="1245.6" cy="308.0" r="5.95"/><circle cx="1246.0" cy="311.0" r="5.95"/><circle cx="1247.0" cy="313.9" r="5.95"/><circle cx="1248.0" cy="316.8" r="5.95"/><circle cx="1249.2" cy="319.8" r="5.95"/><circle cx="1250.1" cy="322.8" r="5.95"/><circle cx="1250.5" cy="325.7" r="5.95"/><circle cx="1250.9" cy="328.7" r="5.95"/><circle cx="1251.5" cy="331.6" r="5.95"/><circle cx="1252.3" cy="334.6" r="5.95"/><circle cx="1253.2" cy="337.5" r="5.95"/><circle cx="1253.8" cy="340.5" r="5.95"/><circle cx="1254.0" cy="343.4" r="5.95"/><circle cx="1254.1" cy="346.4" r="5.95"/><circle cx="1254.4" cy="349.3" r="5.95"/><circle cx="1255.9" cy="352.3" r="5.95"/><circle cx="1256.4" cy="355.3" r="5.95"/><circle cx="1257.3" cy="358.2" r="5.95"/><circle cx="1257.9" cy="361.2" r="5.95"/><circle cx="1258.2" cy="364.1" r="5.95"/><circle cx="1258.8" cy="367.1" r="5.95"/><circle cx="1259.8" cy="370.0" r="5.95"/><circle cx="1260.3" cy="373.0" r="5.95"/><circle cx="1261.7" cy="375.9" r="5.95"/><circle cx="1262.1" cy="378.9" r="5.95"/><circle cx="1262.2" cy="381.9" r="5.95"/><circle cx="1262.4" cy="384.8" r="5.95"/><circle cx="1262.9" cy="387.8" r="5.95"/><circle cx="1263.7" cy="390.7" r="5.95"/><circle cx="1264.5" cy="393.7" r="5.95"/><circle cx="1264.7" cy="396.6" r="5.95"/><circle cx="1265.7" cy="399.5" r="5.95"/><circle cx="1266.3" cy="402.4" r="5.95"/><circle cx="1266.8" cy="405.3" r="5.95"/><circle cx="1267.3" cy="408.2" r="5.95"/><circle cx="1267.8" cy="411.1" r="5.95"/><circle cx="1268.4" cy="414.0" r="5.95"/><circle cx="1269.0" cy="416.9" r="5.95"/><circle cx="1269.7" cy="419.8" r="5.95"/><circle cx="1270.4" cy="422.7" r="5.95"/><circle cx="1271.1" cy="425.6" r="5.95"/><circle cx="1271.8" cy="428.5" r="5.95"/><circle cx="1272.5" cy="431.5" r="5.95"/><circle cx="1273.2" cy="434.4" r="5.95"/><circle cx="1273.8" cy="437.3" r="5.95"/><circle cx="1274.4" cy="440.2" r="5.95"/><circle cx="1275.0" cy="443.1" r="5.95"/><circle cx="1275.6" cy="446.0" r="5.95"/><circle cx="1276.3" cy="448.9" r="5.95"/><circle cx="1277.0" cy="451.8" r="5.95"/><circle cx="1277.6" cy="454.7" r="5.95"/><circle cx="1278.3" cy="457.6" r="5.95"/><circle cx="1278.8" cy="460.5" r="5.95"/><circle cx="1279.5" cy="463.4" r="5.95"/><circle cx="1279.7" cy="466.3" r="5.95"/><circle cx="1280.1" cy="469.2" r="5.95"/><circle cx="1280.6" cy="472.2" r="5.95"/><circle cx="1281.4" cy="475.1" r="5.95"/><circle cx="1282.4" cy="478.0" r="5.95"/><circle cx="1283.4" cy="480.9" r="5.95"/><circle cx="1284.2" cy="483.9" r="5.95"/><circle cx="1284.9" cy="486.8" r="5.95"/><circle cx="1285.3" cy="489.7" r="5.95"/><circle cx="1285.7" cy="492.6" r="5.95"/><circle cx="1286.1" cy="495.6" r="5.95"/><circle cx="1286.7" cy="498.5" r="5.95"/><circle cx="1287.6" cy="501.4" r="5.95"/><circle cx="1288.5" cy="504.3" r="5.95"/><circle cx="1289.4" cy="507.3" r="5.95"/><circle cx="1290.1" cy="510.2" r="5.95"/><circle cx="1290.6" cy="513.1" r="5.95"/><circle cx="1290.8" cy="516.0" r="5.95"/><circle cx="1291.1" cy="519.0" r="5.95"/><circle cx="1291.5" cy="521.9" r="5.95"/><circle cx="1292.2" cy="524.8" r="5.95"/><circle cx="1293.0" cy="527.7" r="5.95"/><circle cx="1293.8" cy="530.7" r="5.95"/><circle cx="1294.6" cy="533.6" r="5.95"/><circle cx="1294.7" cy="536.5" r="5.95"/><circle cx="1295.3" cy="539.4" r="5.95"/><circle cx="1295.5" cy="542.4" r="5.95"/><circle cx="1295.9" cy="545.3" r="5.95"/><circle cx="1296.5" cy="548.2" r="5.95"/><circle cx="1297.4" cy="551.2" r="5.95"/><circle cx="1298.3" cy="554.1" r="5.95"/><circle cx="1299.0" cy="557.1" r="5.95"/><circle cx="1299.4" cy="560.0" r="5.95"/><circle cx="1299.6" cy="562.9" r="5.95"/><circle cx="1299.8" cy="565.9" r="5.95"/><circle cx="1300.4" cy="568.8" r="5.95"/><circle cx="1301.2" cy="571.7" r="5.95"/><circle cx="1302.1" cy="574.7" r="5.95"/><circle cx="1302.9" cy="577.6" r="5.95"/><circle cx="1303.4" cy="580.5" r="5.95"/><circle cx="1303.6" cy="583.5" r="5.95"/><circle cx="1303.8" cy="586.4" r="5.95"/><circle cx="1304.2" cy="589.3" r="5.95"/><circle cx="1305.0" cy="592.3" r="5.95"/><circle cx="1305.9" cy="595.2" r="5.95"/><circle cx="1306.7" cy="598.2" r="5.95"/><circle cx="1307.4" cy="601.1" r="5.95"/><circle cx="1307.7" cy="604.0" r="5.95"/><circle cx="1307.9" cy="607.0" r="5.95"/><circle cx="1308.3" cy="609.9" r="5.95"/><circle cx="1309.5" cy="613.3" r="5.95"/><circle cx="1309.9" cy="616.6" r="5.95"/><circle cx="1310.0" cy="620.0" r="5.95"/></g>
<path d="M987.4,21.3 L987.8,24.2 L988.3,27.2 L988.7,30.1 L989.1,33.1 L989.6,36.0 L990.0,39.0 L990.6,43.4 L991.7,50.8 L992.8,58.1 L1007.1,65.5 L1021.7,72.8 L1041.0,80.2 L1052.6,87.6 L1063.9,94.9 L1094.5,109.7 L1120.4,124.4 L1140.6,139.1 L1157.2,153.8 L1173.2,168.6 L1198.0,205.4 L1221.4,242.2 L1247.0,315.9 L1263.9,389.5 L1279.2,463.1 L1294.4,536.8 L1309.3,610.4" fill="none" stroke="#008000" stroke-width="2.6" stroke-linejoin="round"/>
<g fill="#008000"><circle cx="987.4" cy="21.3" r="5.95"/><circle cx="987.8" cy="24.2" r="5.95"/><circle cx="988.3" cy="27.2" r="5.95"/><circle cx="988.7" cy="30.1" r="5.95"/><circle cx="989.1" cy="33.1" r="5.95"/><circle cx="989.6" cy="36.0" r="5.95"/><circle cx="990.0" cy="39.0" r="5.95"/><circle cx="990.6" cy="43.4" r="5.95"/><circle cx="991.7" cy="50.8" r="5.95"/><circle cx="992.8" cy="58.1" r="5.95"/><circle cx="1007.1" cy="65.5" r="5.95"/><circle cx="1021.7" cy="72.8" r="5.95"/><circle cx="1041.0" cy="80.2" r="5.95"/><circle cx="1052.6" cy="87.6" r="5.95"/><circle cx="1063.9" cy="94.9" r="5.95"/><circle cx="1094.5" cy="109.7" r="5.95"/><circle cx="1120.4" cy="124.4" r="5.95"/><circle cx="1140.6" cy="139.1" r="5.95"/><circle cx="1157.2" cy="153.8" r="5.95"/><circle cx="1173.2" cy="168.6" r="5.95"/><circle cx="1198.0" cy="205.4" r="5.95"/><circle cx="1221.4" cy="242.2" r="5.95"/><circle cx="1247.0" cy="315.9" r="5.95"/><circle cx="1263.9" cy="389.5" r="5.95"/><circle cx="1279.2" cy="463.1" r="5.95"/><circle cx="1294.4" cy="536.8" r="5.95"/><circle cx="1309.3" cy="610.4" r="5.95"/></g>
<path d="M990.5,21.3 L991.0,24.2 L991.5,27.2 L992.0,30.1 L992.6,33.1 L993.1,36.0 L993.6,39.0 L994.4,43.4 L995.6,50.8 L996.9,58.1 L998.2,65.5 L1009.0,72.8 L1020.3,80.2 L1037.6,87.6 L1052.6,94.9 L1078.6,109.7 L1104.6,124.4 L1127.2,139.1 L1148.4,153.8 L1167.6,168.6 L1203.3,205.4 L1232.3,242.2 L1247.9,315.9 L1266.2,389.5 L1282.4,463.1 L1297.0,536.8 L1311.5,610.4" fill="none" stroke="#ff0000" stroke-width="2.6" stroke-linejoin="round"/>
<g fill="#ff0000"><circle cx="990.5" cy="21.3" r="5.95"/><circle cx="991.0" cy="24.2" r="5.95"/><circle cx="991.5" cy="27.2" r="5.95"/><circle cx="992.0" cy="30.1" r="5.95"/><circle cx="992.6" cy="33.1" r="5.95"/><circle cx="993.1" cy="36.0" r="5.95"/><circle cx="993.6" cy="39.0" r="5.95"/><circle cx="994.4" cy="43.4" r="5.95"/><circle cx="995.6" cy="50.8" r="5.95"/><circle cx="996.9" cy="58.1" r="5.95"/><circle cx="998.2" cy="65.5" r="5.95"/><circle cx="1009.0" cy="72.8" r="5.95"/><circle cx="1020.3" cy="80.2" r="5.95"/><circle cx="1037.6" cy="87.6" r="5.95"/><circle cx="1052.6" cy="94.9" r="5.95"/><circle cx="1078.6" cy="109.7" r="5.95"/><circle cx="1104.6" cy="124.4" r="5.95"/><circle cx="1127.2" cy="139.1" r="5.95"/><circle cx="1148.4" cy="153.8" r="5.95"/><circle cx="1167.6" cy="168.6" r="5.95"/><circle cx="1203.3" cy="205.4" r="5.95"/><circle cx="1232.3" cy="242.2" r="5.95"/><circle cx="1247.9" cy="315.9" r="5.95"/><circle cx="1266.2" cy="389.5" r="5.95"/><circle cx="1282.4" cy="463.1" r="5.95"/><circle cx="1297.0" cy="536.8" r="5.95"/><circle cx="1311.5" cy="610.4" r="5.95"/></g>
<path d="M995.5,22.0 L995.7,23.6 L995.9,25.2 L996.1,26.9 L996.4,28.8 L996.6,30.8 L996.9,33.0 L997.2,35.4 L997.6,38.1 L998.0,41.1 L998.4,44.6 L998.9,48.5 L999.5,53.1 L1000.2,58.4 L1001.0,64.7 L1002.0,72.0 L1003.1,80.7 L1022.6,91.1 L1048.6,103.4 L1072.0,118.2 L1097.7,136.0 L1130.5,157.3 L1161.4,182.9 L1192.5,213.7 L1221.1,250.8 L1242.6,295.4 L1258.3,349.0 L1271.1,413.1 L1285.7,489.8 L1305.1,581.3" fill="none" stroke="#ff00ff" stroke-width="2.6" stroke-linejoin="round"/>
<g fill="#ff00ff"><circle cx="995.5" cy="22.0" r="5.95"/><circle cx="995.7" cy="23.6" r="5.95"/><circle cx="995.9" cy="25.2" r="5.95"/><circle cx="996.1" cy="26.9" r="5.95"/><circle cx="996.4" cy="28.8" r="5.95"/><circle cx="996.6" cy="30.8" r="5.95"/><circle cx="996.9" cy="33.0" r="5.95"/><circle cx="997.2" cy="35.4" r="5.95"/><circle cx="997.6" cy="38.1" r="5.95"/><circle cx="998.0" cy="41.1" r="5.95"/><circle cx="998.4" cy="44.6" r="5.95"/><circle cx="998.9" cy="48.5" r="5.95"/><circle cx="999.5" cy="53.1" r="5.95"/><circle cx="1000.2" cy="58.4" r="5.95"/><circle cx="1001.0" cy="64.7" r="5.95"/><circle cx="1002.0" cy="72.0" r="5.95"/><circle cx="1003.1" cy="80.7" r="5.95"/><circle cx="1022.6" cy="91.1" r="5.95"/><circle cx="1048.6" cy="103.4" r="5.95"/><circle cx="1072.0" cy="118.2" r="5.95"/><circle cx="1097.7" cy="136.0" r="5.95"/><circle cx="1130.5" cy="157.3" r="5.95"/><circle cx="1161.4" cy="182.9" r="5.95"/><circle cx="1192.5" cy="213.7" r="5.95"/><circle cx="1221.1" cy="250.8" r="5.95"/><circle cx="1242.6" cy="295.4" r="5.95"/><circle cx="1258.3" cy="349.0" r="5.95"/><circle cx="1271.1" cy="413.1" r="5.95"/><circle cx="1285.7" cy="489.8" r="5.95"/><circle cx="1305.1" cy="581.3" r="5.95"/></g>
</g>
<path d="M982.50,610.4v6.06M1081.50,610.4v6.06M1180.50,610.4v6.06M1278.50,610.4v6.06M958.50,21.30h-6.06M958.50,95.50h-6.06M958.50,168.50h-6.06M958.50,242.50h-6.06M958.50,315.50h-6.06M958.50,389.50h-6.06M958.50,463.50h-6.06M958.50,536.50h-6.06M958.50,610.40h-6.06" stroke="#000" stroke-width="1.38" fill="none"/>
<rect x="958.50" y="21.3" width="379.00" height="589.10" fill="none" stroke="#000" stroke-width="1.38"/>
<text transform="translate(953.87,640.20) scale(1.0469,1)" x="0.21 13.88 27.55 41.22" y="0" font-size="23.85" xml:space="preserve">1022</text>
<text transform="translate(1052.87,640.20) scale(1.0469,1)" x="0.21 13.88 27.55 41.22" y="0" font-size="23.85" xml:space="preserve">1024</text>
<text transform="translate(1151.87,640.20) scale(1.0469,1)" x="0.21 13.88 27.55 41.22" y="0" font-size="23.85" xml:space="preserve">1026</text>
<text transform="translate(1249.87,640.20) scale(1.0469,1)" x="0.21 13.88 27.55 41.22" y="0" font-size="23.85" xml:space="preserve">1028</text>
<text transform="translate(30.30,315.90) rotate(-90) translate(-69.27,0) scale(1.1215,1)" x="-0.31 18.12 32.47 48.94 58.22 73.95 81.94 90.99 114.32" y="0" font-size="25.68" font-weight="bold" xml:space="preserve">Depth (m)</text>
<text transform="translate(170.60,673.60) scale(1.1099,1)" x="-0.40 13.70 26.75 49.51 65.43 80.36 90.96 106.41 115.83 131.83 142.47 157.24 165.32" y="0" font-size="25.68" font-weight="bold" xml:space="preserve">Temperature (</text>
<text transform="translate(364.60,666.60) scale(1.1441,1)" x="0.13" y="0" font-size="20.67" font-weight="bold" xml:space="preserve">°</text>
<text transform="translate(376.00,673.60) scale(1.0328,1)" x="-0.67 18.30" y="0" font-size="25.68" font-weight="bold" xml:space="preserve">C)</text>
<text transform="translate(626.24,671.00) scale(1.1005,1)" x="-0.64 16.14 30.92 38.46 45.80 61.68 70.01 79.58 94.16 102.32 111.66 126.80 140.48 156.92" y="0" font-size="25.68" font-weight="bold" xml:space="preserve">Salinity (psu)</text>
<text transform="translate(1094.65,671.00) scale(1.0863,1)" x="-0.02 18.94 33.74 49.01 63.05 71.49 81.23" y="0" font-size="25.68" font-weight="bold" xml:space="preserve">Density</text>
<text transform="translate(360.50,695.70) scale(1.0101,1)" x="-0.39 13.61 23.07 33.59 44.27 54.98 60.07 73.30 83.82 94.98 101.07 105.69 118.44 129.11 140.45 146.53 157.23 168.57 174.65 180.21 186.98 194.47 201.92 207.48 217.48 236.34 248.17 259.01 265.58 270.89 277.21 282.22 294.67 301.58 312.26 322.94 328.55 334.17 345.07 355.79 361.41 372.32 383.22 394.12 404.84 410.29 415.73 420.33 432.54 442.98 456.19 466.04 477.93 483.54 489.16 499.89 505.51 516.41 527.31 538.21 548.93 554.38 559.83 564.39 575.24 585.85 596.49 609.43 615.04 620.66 631.39 637.01 647.91 658.81 669.71 680.44 685.88 691.33 695.96 708.31 722.64 733.92 748.27 760.17 765.78 771.40 782.30 793.02 798.64 809.54 820.44 831.34 842.07" y="0" font-size="18.34" font-style="italic" xml:space="preserve">Ocean Heat Content (kJ/cm^2) - Argo: 18.2492,  RTOFS: 6.8501,  ESPC: 6.6215,  CMEMS: 10.6795,</text>
<text transform="translate(1458.10,40.70) scale(1.1311,1)" x="-1.05 18.07 28.89 44.99 61.45 71.23 88.83 104.79 120.76 136.73 152.70 168.67 184.64" y="0" font-size="27.52" font-weight="bold" xml:space="preserve">Argo #5906753</text>
<text transform="translate(1458.10,70.76) scale(1.0988,1)" x="-0.79 17.44 35.47 55.21 76.09 85.69 94.19 110.63 127.06 143.50 159.69 169.74 186.18 202.37 212.42 228.86 244.39 261.41 277.85 293.86 303.74 320.17 336.21" y="0" font-size="27.52" font-weight="bold" xml:space="preserve">ARGO: 2025-11-06T09:03Z</text>
<text transform="translate(1458.10,100.82) scale(1.0990,1)" x="-1.11 15.47 32.63 49.19 68.08 76.16 85.75 94.25 110.69 127.12 143.56 159.75 169.80 186.23 202.42 212.47 228.91 244.43 261.46 277.89 293.90 303.77 320.21 336.24" y="0" font-size="27.52" font-weight="bold" xml:space="preserve">ESPC : 2025-11-06T09:00Z</text>
<text transform="translate(1458.10,130.88) scale(1.0989,1)" x="-0.84 17.31 32.58 52.99 68.79 86.62 96.21 104.71 121.15 137.59 154.02 170.22 180.27 196.70 212.89 222.94 239.38 254.90 271.93 288.37 304.38 314.25 330.69 346.72" y="0" font-size="27.52" font-weight="bold" xml:space="preserve">RTOFS: 2025-11-06T12:00Z</text>
<text transform="translate(1458.10,160.94) scale(1.1020,1)" x="-1.29 17.55 39.60 57.08 79.57 97.36 106.93 115.39 131.78 148.18 164.57 180.72 190.73 207.12 223.28 233.29 249.68 265.16 282.14 298.53 314.51 324.34 340.73 356.72" y="0" font-size="27.52" font-weight="bold" xml:space="preserve">CMEMS: 2025-11-06T12:00Z</text>
<rect x="1483.9" y="199.3" width="376.85" height="232.90" fill="#97b6e1"/>
<polygon points="1627.8,293.8 1630.8,295.3 1636.7,298.3 1638.7,301.2 1641.1,304.7 1638.7,307.1 1633.7,309.1 1629.8,312.5 1627.4,311.0 1626.9,307.1 1624.9,301.7 1626.9,298.3" fill="#d2b48c" stroke="#000" stroke-width="2.2" stroke-linejoin="round"/>
<polygon points="1617.3,283.6 1619.5,284.8 1623.9,285.0 1626.4,287.0 1624.9,288.9 1621.5,289.4 1619.5,287.6 1617.6,285.8" fill="#d2b48c" stroke="#000" stroke-width="2.3" stroke-linejoin="round"/>
<polygon points="1608.6,280.6 1612.0,280.3 1616.3,281.6 1616.0,282.8 1611.0,282.6 1608.4,281.8" fill="#000" stroke="#000" stroke-width="1.9" stroke-linejoin="round"/>
<polygon points="1612.2,285.5 1614.0,285.3 1614.4,287.2 1612.8,287.8" fill="#000" stroke="#000" stroke-width="2.0" stroke-linejoin="round"/>
<polygon points="1616.6,289.7 1618.4,289.5 1618.4,290.9 1616.8,291.0" fill="#000" stroke="#000" stroke-width="1.6" stroke-linejoin="round"/>
<polygon points="1595.4,276.1 1597.6,275.8 1599.8,273.7 1602.3,277.1 1604.7,279.6 1602.3,280.8 1598.3,280.1 1596.4,278.1" fill="#d2b48c" stroke="#000" stroke-width="2.2" stroke-linejoin="round"/>
<polygon points="1577.0,268.8 1578.6,267.0 1581.8,266.7 1583.3,268.3 1582.7,271.0 1580.5,272.4 1578.0,271.6" fill="#d2b48c" stroke="#000" stroke-width="2.2" stroke-linejoin="round"/>
<polygon points="1570.3,272.6 1571.6,270.4 1573.2,269.6 1573.0,271.2 1571.4,273.0" fill="#000" stroke="#000" stroke-width="1.7" stroke-linejoin="round"/>
<g fill="#5a6b85">
<ellipse cx="1492.2" cy="244.6" rx="1.1" ry="1.8" transform="rotate(-30 1492.2 244.6)"/>
<ellipse cx="1512.3" cy="247.6" rx="1.3" ry="0.7"/>
</g>
<circle cx="1548.5" cy="255.2" r="1.1" fill="#b9b6a8" stroke="#667" stroke-width="0.5"/>
<ellipse cx="1566.4" cy="274.9" rx="1.3" ry="0.8" fill="#8b9dbd"/>
<circle cx="1786.4" cy="395.4" r="6" fill="#0000ff"/>
<path d="M1509.89,199.3v-9.2M1509.89,432.2v9.2M1548.87,199.3v-9.2M1548.87,432.2v9.2M1587.86,199.3v-9.2M1587.86,432.2v9.2M1626.84,199.3v-9.2M1626.84,432.2v9.2M1665.83,199.3v-9.2M1665.83,432.2v9.2M1704.81,199.3v-9.2M1704.81,432.2v9.2M1743.80,199.3v-9.2M1743.80,432.2v9.2M1782.78,199.3v-9.2M1782.78,432.2v9.2M1821.77,199.3v-9.2M1821.77,432.2v9.2M1860.75,199.3v-9.2M1860.75,432.2v9.2M1483.9,406.50h-9.2M1860.75,406.50h9.2M1483.9,366.47h-9.2M1860.75,366.47h9.2M1483.9,325.87h-9.2M1860.75,325.87h9.2M1483.9,284.57h-9.2M1860.75,284.57h9.2M1483.9,242.43h-9.2M1860.75,242.43h9.2M1483.9,199.30h-9.2M1860.75,199.30h9.2" stroke="#000" stroke-width="3.1" fill="none"/>
<path d="M1483.90,199.3v-3.4M1483.90,432.2v3.4M1496.89,199.3v-3.4M1496.89,432.2v3.4M1522.88,199.3v-3.4M1522.88,432.2v3.4M1535.88,199.3v-3.4M1535.88,432.2v3.4M1561.87,199.3v-3.4M1561.87,432.2v3.4M1574.86,199.3v-3.4M1574.86,432.2v3.4M1600.85,199.3v-3.4M1600.85,432.2v3.4M1613.85,199.3v-3.4M1613.85,432.2v3.4M1639.84,199.3v-3.4M1639.84,432.2v3.4M1652.83,199.3v-3.4M1652.83,432.2v3.4M1678.82,199.3v-3.4M1678.82,432.2v3.4M1691.82,199.3v-3.4M1691.82,432.2v3.4M1717.81,199.3v-3.4M1717.81,432.2v3.4M1730.80,199.3v-3.4M1730.80,432.2v3.4M1756.79,199.3v-3.4M1756.79,432.2v3.4M1769.79,199.3v-3.4M1769.79,432.2v3.4M1795.78,199.3v-3.4M1795.78,432.2v3.4M1808.77,199.3v-3.4M1808.77,432.2v3.4M1834.76,199.3v-3.4M1834.76,432.2v3.4M1847.76,199.3v-3.4M1847.76,432.2v3.4M1483.9,419.74h-3.4M1860.75,419.74h3.4M1483.9,393.21h-3.4M1860.75,393.21h3.4M1483.9,379.87h-3.4M1860.75,379.87h3.4M1483.9,353.00h-3.4M1860.75,353.00h3.4M1483.9,339.47h-3.4M1860.75,339.47h3.4M1483.9,312.18h-3.4M1860.75,312.18h3.4M1483.9,298.42h-3.4M1860.75,298.42h3.4M1483.9,270.62h-3.4M1860.75,270.62h3.4M1483.9,256.58h-3.4M1860.75,256.58h3.4M1483.9,228.17h-3.4M1860.75,228.17h3.4M1483.9,213.80h-3.4M1860.75,213.80h3.4M1483.9,431.8h-3.4M1860.75,431.8h3.4" stroke="#000" stroke-width="1.5" fill="none"/>
<rect x="1483.9" y="199.3" width="376.85" height="232.90" fill="none" stroke="#000" stroke-width="1.5"/>
<text transform="translate(1487.13,458.20) scale(1.0321,1)" x="0.18 8.44 16.70 25.19 30.99" y="0" font-size="14.20" xml:space="preserve">165°W</text>
<text transform="translate(1526.11,458.20) scale(1.0321,1)" x="0.18 8.44 16.70 25.19 30.99" y="0" font-size="14.20" xml:space="preserve">162°W</text>
<text transform="translate(1565.10,458.20) scale(1.0321,1)" x="0.18 8.44 16.70 25.19 30.99" y="0" font-size="14.20" xml:space="preserve">159°W</text>
<text transform="translate(1604.08,458.20) scale(1.0321,1)" x="0.18 8.44 16.70 25.19 30.99" y="0" font-size="14.20" xml:space="preserve">156°W</text>
<text transform="translate(1643.06,458.20) scale(1.0321,1)" x="0.18 8.44 16.70 25.19 30.99" y="0" font-size="14.20" xml:space="preserve">153°W</text>
<text transform="translate(1682.05,458.20) scale(1.0321,1)" x="0.18 8.44 16.70 25.19 30.99" y="0" font-size="14.20" xml:space="preserve">150°W</text>
<text transform="translate(1721.03,458.20) scale(1.0321,1)" x="0.18 8.44 16.70 25.19 30.99" y="0" font-size="14.20" xml:space="preserve">147°W</text>
<text transform="translate(1760.02,458.20) scale(1.0321,1)" x="0.18 8.44 16.70 25.19 30.99" y="0" font-size="14.20" xml:space="preserve">144°W</text>
<text transform="translate(1799.00,458.20) scale(1.0321,1)" x="0.18 8.44 16.70 25.19 30.99" y="0" font-size="14.20" xml:space="preserve">141°W</text>
<text transform="translate(1837.99,458.20) scale(1.0321,1)" x="0.18 8.44 16.70 25.19 30.99" y="0" font-size="14.20" xml:space="preserve">138°W</text>
<text transform="translate(1433.83,412.10) scale(1.0323,1)" x="0.18 8.44 16.92 22.73" y="0" font-size="14.20" xml:space="preserve">12°N</text>
<text transform="translate(1433.83,372.07) scale(1.0323,1)" x="0.18 8.44 16.92 22.73" y="0" font-size="14.20" xml:space="preserve">15°N</text>
<text transform="translate(1433.83,331.47) scale(1.0323,1)" x="0.18 8.44 16.92 22.73" y="0" font-size="14.20" xml:space="preserve">18°N</text>
<text transform="translate(1433.83,290.17) scale(1.0323,1)" x="0.18 8.44 16.92 22.73" y="0" font-size="14.20" xml:space="preserve">21°N</text>
<text transform="translate(1433.83,248.03) scale(1.0323,1)" x="0.18 8.44 16.92 22.73" y="0" font-size="14.20" xml:space="preserve">24°N</text>
<text transform="translate(1433.83,204.90) scale(1.0323,1)" x="0.18 8.44 16.92 22.73" y="0" font-size="14.20" xml:space="preserve">27°N</text>
<rect x="1499.1" y="487.5" width="343.8" height="127.4" rx="3.5" ry="3.5" fill="#fff" stroke="#cccccc" stroke-width="1.7"/>
<path d="M1508.2,505.30H1549.6" stroke="#0000ff" stroke-width="2.6" stroke-linecap="square" fill="none"/>
<circle cx="1528.9" cy="505.30" r="5.95" fill="#0000ff"/>
<text transform="translate(1566.30,512.20) scale(1.0571,1.04)" x="0.13 12.63 25.13 37.63 50.13 62.62 75.12 87.56 94.51 101.28 108.62 121.12 133.62 146.05 152.36 164.86 177.30 183.54 189.85 202.35 214.79 221.09 233.59 246.74" y="0" font-size="22.01" xml:space="preserve">5906753 [-143.64, 12.82]</text>
<path d="M1508.2,535.45H1549.6" stroke="#008000" stroke-width="2.6" stroke-linecap="square" fill="none"/>
<circle cx="1528.9" cy="535.45" r="5.95" fill="#008000"/>
<text transform="translate(1566.30,542.35) scale(1.0059,1.04)" x="-0.82 12.25 25.03 37.86 53.24 60.54 67.69 75.52 88.66 101.79 114.71 121.49 134.40 140.96 147.75 160.88 173.80 180.58 193.72 207.37" y="0" font-size="22.01" xml:space="preserve">ESPC [-143.6, 12.84]</text>
<path d="M1508.2,565.60H1549.6" stroke="#ff0000" stroke-width="2.6" stroke-linecap="square" fill="none"/>
<circle cx="1528.9" cy="565.60" r="5.95" fill="#ff0000"/>
<text transform="translate(1566.30,572.50) scale(1.0040,1.04)" x="-0.76 13.21 25.08 41.01 52.72 66.68 74.00 81.16 89.01 102.17 115.33 128.26 135.07 148.23 161.16 167.73 174.54 187.70 200.63 207.43 220.59 234.27" y="0" font-size="22.01" xml:space="preserve">RTOFS [-143.60, 12.85]</text>
<path d="M1508.2,595.75H1549.6" stroke="#ff00ff" stroke-width="2.6" stroke-linecap="square" fill="none"/>
<circle cx="1528.9" cy="595.75" r="5.95" fill="#ff00ff"/>
<text transform="translate(1566.30,602.65) scale(1.0100,1.04)" x="-0.77 14.06 31.25 44.79 62.01 76.09 83.37 90.48 98.27 111.36 124.44 137.31 144.05 157.14 170.01 176.54 183.29 196.37 209.24 215.99 229.07 242.68" y="0" font-size="22.01" xml:space="preserve">CMEMS [-143.67, 12.83]</text>
</svg></body></html>
